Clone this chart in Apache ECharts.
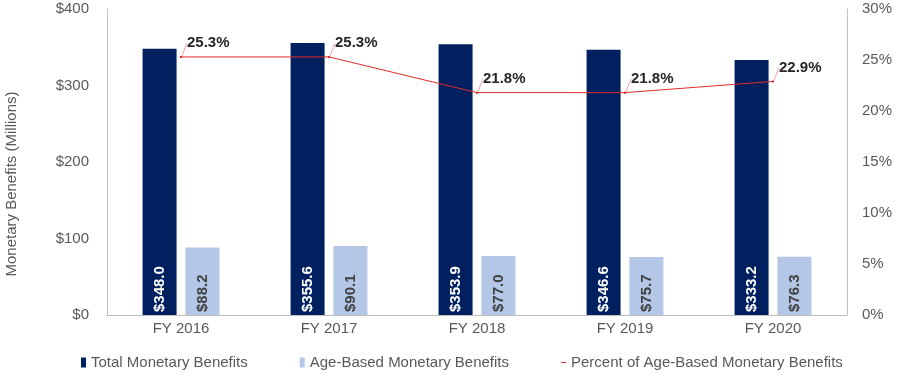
<!DOCTYPE html>
<html><head><meta charset="utf-8">
<script src="https://cdn.jsdelivr.net/npm/echarts@6/dist/echarts.min.js"></script>
<style>html,body{margin:0;padding:0;background:#fff}#c{width:900px;height:383px}</style>
</head><body><div id="c"></div>
<script>
const categories = ['FY 2016','FY 2017','FY 2018','FY 2019','FY 2020'];
const totalBenefits = [348.0, 355.6, 353.9, 346.6, 333.2];
const ageBenefits = [88.2, 90.1, 77.0, 75.7, 76.3];
const percentAge = [25.3, 25.3, 21.8, 21.8, 22.9];
const leftTicks = ['$0','$100','$200','$300','$400'];
const rightTicks = ['0%','5%','10%','15%','20%','25%','30%'];

const font = 'Liberation Sans, Arial, sans-serif';
const grey = '#595959';
const dashIcon = 'path://M0,0L5,0L5,0.01L0,0.01Z M0,4.5L5,4.5L5,5.5L0,5.5Z M0,9.99L5,9.99L5,10L0,10Z';
const chart = echarts.init(document.getElementById('c'), null, {renderer:'canvas'});
chart.setOption({
  animation: false,
  textStyle: {fontFamily: font},
  grid: {left: 107, right: 53, top: 9, bottom: 68, containLabel: false, outerBoundsMode: 'none'},
  legend: {
    bottom: 8, left: 76,
    itemWidth: 5, itemHeight: 10, itemGap: 52,
    textStyle: {fontSize: 15, color: grey, fontFamily: font},
    data: [
      {name: 'Total Monetary Benefits', icon: 'rect'},
      {name: 'Age-Based Monetary Benefits', icon: 'rect'},
      {name: 'Percent of Age-Based Monetary Benefits', icon: dashIcon}
    ]
  },
  xAxis: {
    type: 'category', data: categories,
    axisLine: {lineStyle: {color: '#BFBFBF'}},
    axisTick: {show: false},
    axisLabel: {fontSize: 15, color: grey, margin: 6}
  },
  yAxis: [{
    type: 'value', min: 0, max: 400, interval: 100,
    name: 'Monetary Benefits (Millions)', nameLocation: 'middle', nameGap: 88,
    nameTextStyle: {fontSize: 15, color: grey, padding: [0, 44, 0, 0]},
    axisLine: {show: true, lineStyle: {color: '#BFBFBF'}},
    axisTick: {show: false}, splitLine: {show: false},
    axisLabel: {fontSize: 15, color: grey, margin: 18, formatter: v => leftTicks[v/100]}
  },{
    type: 'value', min: 0, max: 30, interval: 5,
    axisLine: {show: true, lineStyle: {color: '#BFBFBF'}},
    axisTick: {show: false}, splitLine: {show: false},
    axisLabel: {fontSize: 15, color: grey, margin: 15, formatter: v => rightTicks[v/5]}
  }],
  series: [{
    name: 'Total Monetary Benefits', type: 'bar', data: totalBenefits,
    barWidth: 34, barGap: '26%',
    itemStyle: {color: '#002060'},
    label: {show: true, position: 'insideBottom', rotate: 90, align: 'left', verticalAlign: 'middle', distance: 3,
      color: '#fff', fontWeight: 'bold', fontSize: 15, formatter: p => '$' + p.value.toFixed(1)}
  },{
    name: 'Age-Based Monetary Benefits', type: 'bar', data: ageBenefits,
    barWidth: 34,
    itemStyle: {color: '#B4C7E7'},
    label: {show: true, position: 'insideBottom', rotate: 90, align: 'left', verticalAlign: 'middle', distance: 3,
      color: '#404040', fontWeight: 'bold', fontSize: 15, formatter: p => '$' + p.value.toFixed(1)}
  },{
    name: 'Percent of Age-Based Monetary Benefits', type: 'line', yAxisIndex: 1, data: percentAge,
    symbol: 'rect', symbolSize: 2, lineStyle: {color: '#E02B2B', width: 1}, itemStyle: {color: '#E02B2B'},
    label: {show: true, position: 'right', distance: 2, color: '#262626', fontWeight: 'bold', fontSize: 15,
      formatter: p => p.value.toFixed(1) + '%'},
    labelLayout: {dx: 3, dy: -14},
    labelLine: {show: true, lineStyle: {color: '#F3A0A0', width: 1}}
  }]
});
</script></body></html>
